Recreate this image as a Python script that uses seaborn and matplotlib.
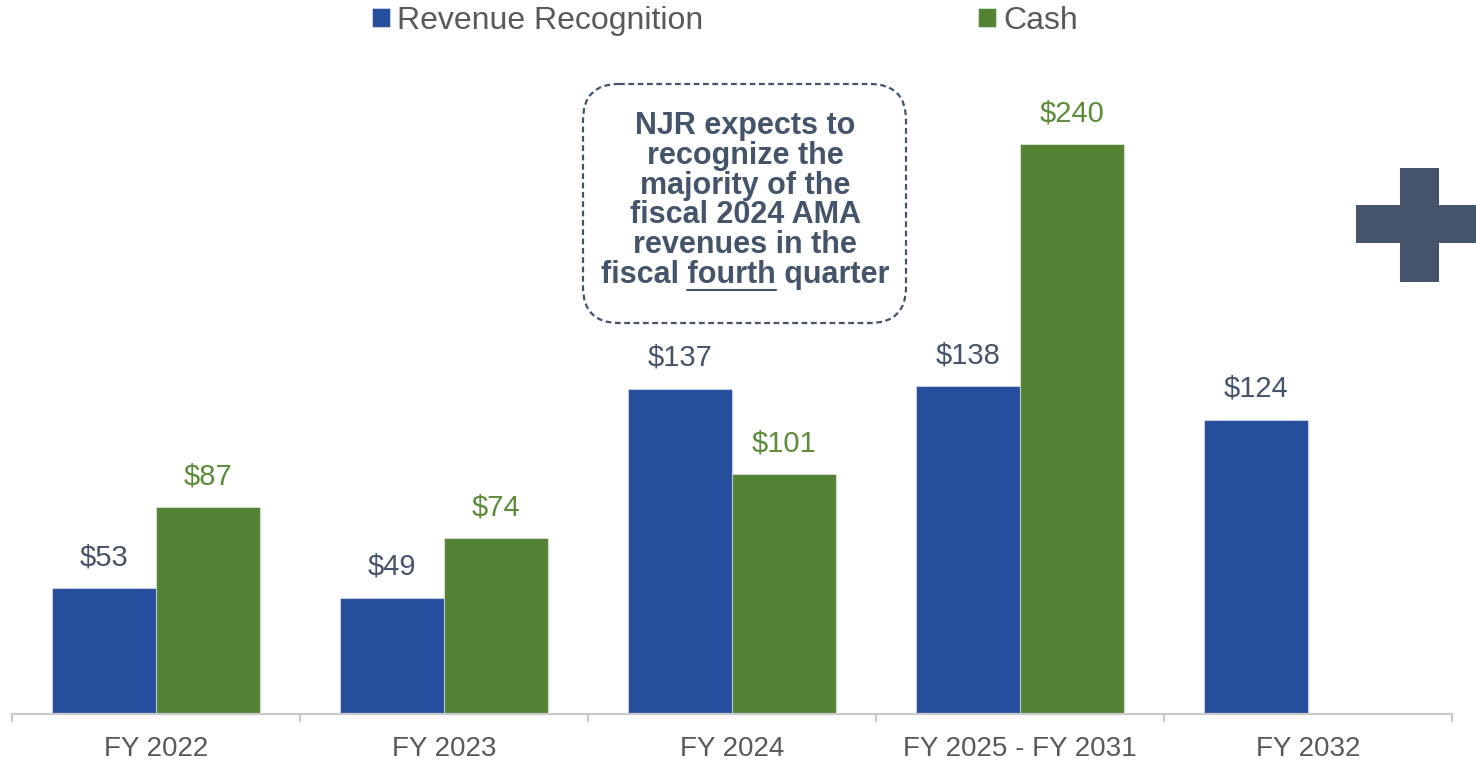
import numpy as np
import pandas as pd
import matplotlib
matplotlib.use("Agg")
import matplotlib.pyplot as plt
import seaborn as sns
from matplotlib.patches import FancyBboxPatch, Rectangle
from matplotlib.lines import Line2D
from matplotlib.transforms import Affine2D

# ---- data ----
categories = ["FY 2022", "FY 2023", "FY 2024", "FY 2025 - FY 2031", "FY 2032"]
revenue_recognition = [53, 49, 137, 138, 124]
cash = [87, 74, 101, 240, np.nan]
series_names = ["Revenue Recognition", "Cash"]
note_lines = ["NJR expects to", "recognize the", "majority of the",
              "fiscal 2024 AMA", "revenues in the"]
note_last = ["fiscal ", "fourth", " quarter"]

BLUE = "#254E9C"
GREEN = "#548235"
SLATE = "#44546A"
GREEN_TXT = "#5B8C3A"
GRAY_TXT = "#595959"
AXIS_GRAY = "#C9C9C9"

sns.set_theme(style="white")
plt.rcParams["font.family"] = ["Liberation Sans", "DejaVu Sans"]

W, H = 1476, 761
fig = plt.figure(figsize=(W / 100, H / 100), dpi=100)
ax = fig.add_axes([12 / W, 47 / H, 1440 / W, 714 / H])

df = pd.DataFrame({
    "category": categories * 2,
    "series": [series_names[0]] * 5 + [series_names[1]] * 5,
    "value": list(revenue_recognition) + list(cash),
})

sns.barplot(data=df, x="category", y="value", hue="series", order=categories,
            hue_order=series_names, palette=[BLUE, GREEN], width=0.722,
            saturation=1, errorbar=None, edgecolor=(1, 1, 1, 0.45),
            linewidth=0.8, ax=ax)

ax.set_xlim(-0.5, 4.5)
ax.set_ylim(0, 714 / 2.375)
ax.set_xlabel("")
ax.set_ylabel("")
ax.set_yticks([])
for s in ["top", "right", "left"]:
    ax.spines[s].set_visible(False)
ax.spines["bottom"].set_color(AXIS_GRAY)
ax.spines["bottom"].set_linewidth(1.6)
ax.tick_params(axis="x", which="major", length=0, pad=16, labelsize=20,
               labelcolor=GRAY_TXT)
ax.set_xticks(np.arange(-0.5, 5, 1.0), minor=True)
ax.tick_params(axis="x", which="minor", length=6, width=1.6, color=AXIS_GRAY,
               direction="out", bottom=True)

label_colors = [SLATE, GREEN_TXT]
for cont, col in zip(ax.containers, label_colors):
    labels = ["" if (v is None or np.isnan(v)) else f"${v:.0f}" for v in cont.datavalues]
    ax.bar_label(cont, labels=labels, padding=12, fontsize=21, color=col)

sns.move_legend(ax, "center", bbox_to_anchor=((725 - 12) / 1440, 1 - 21 / 714),
                ncol=2, title=None, frameon=False,
                prop={"size": 23},
                handlelength=0.56, handleheight=0.56, handletextpad=0.22,
                columnspacing=8.6, labelcolor=GRAY_TXT)

# pixel (y-down) transform for annotations
px = Affine2D().scale(1, -1).translate(0, H) + Affine2D().scale(fig.dpi / 100)

box = FancyBboxPatch((583, 84), 323, 239,
                     boxstyle="round,pad=0,rounding_size=36",
                     transform=px, facecolor="white", edgecolor=SLATE,
                     linewidth=1.6, linestyle=(0, (2.6, 1.6)))
fig.patches.append(box)

cx = 745
base0 = 134
step = 29.8
FS = 22
for i, line in enumerate(note_lines):
    fig.text(cx, base0 + step * i, line, transform=px, ha="center",
             va="baseline", fontsize=FS, fontweight="bold", color=SLATE)

last_y = base0 + step * 5
full = fig.text(cx, last_y, "".join(note_last), transform=px, ha="center",
                va="baseline", fontsize=FS, fontweight="bold", color=SLATE)
fig.canvas.draw()
r = fig.canvas.get_renderer()
bb_full = full.get_window_extent(r)
tmp = fig.text(0, 0, note_last[0], fontsize=FS, fontweight="bold")
w_pre = tmp.get_window_extent(r).width
tmp.set_text(note_last[0] + note_last[1])
w_mid = tmp.get_window_extent(r).width
tmp.remove()
x0 = bb_full.x0 + w_pre
x1 = bb_full.x0 + w_mid
uy = (H - (last_y + 7)) * fig.dpi / 100
fig.lines.append(Line2D([x0, x1], [uy, uy], transform=None, color=SLATE,
                        linewidth=1.5))

# plus sign
fig.patches.append(Rectangle((1356, 205), 120, 38, transform=px,
                             facecolor="#45546B", edgecolor="none"))
fig.patches.append(Rectangle((1400, 168), 39, 114, transform=px,
                             facecolor="#45546B", edgecolor="none"))

fig.savefig("out.png", dpi=100, facecolor="white")
